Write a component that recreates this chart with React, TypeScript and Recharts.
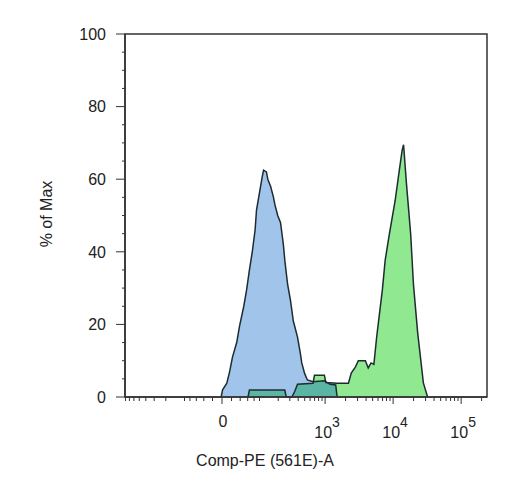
import React from "react";
import { ComposedChart, Area, XAxis, YAxis, ReferenceArea } from "recharts";

// histogram bins on the display (channel) scale, 0..256
const blueChannels = [68, 69, 72, 74, 76, 79, 81, 84, 86, 88, 90, 92, 93, 95, 97, 98, 100, 101, 103, 105, 106, 108, 110, 112, 113, 115, 117, 119, 122, 124, 125, 127, 129, 133, 141, 145, 149, 150];
const bluePct = [0, 2, 3.8, 7, 11, 15, 19.5, 25, 29.5, 35, 40, 46, 51.5, 56, 60.6, 62.5, 62, 60, 58, 55, 53, 50, 48, 42, 37.7, 31, 26.7, 21, 16.5, 12, 9.4, 6.5, 4.7, 4.2, 4.5, 3.5, 3.3, 0];

const greenChannels = [87, 88, 113, 114, 118, 120, 122, 133, 134, 141, 142, 150, 158, 160, 163, 165, 170, 172, 174, 176, 178, 182, 184, 187, 191, 194, 196, 197, 199, 202, 204, 207, 211, 214];
const greenPct = [0, 1.9, 1.9, 0, 0, 1.5, 3.5, 3.8, 6, 6, 4, 3.8, 3.8, 6.6, 8.3, 10, 10, 8, 9.4, 9, 16.6, 29.5, 37.7, 45, 54, 62.5, 68, 69.5, 59, 45, 31, 17.6, 3.9, 0];

const xMajorValues = [0, 1e3, 1e4, 1e5];
const xMajorExponents = [null, 3, 4, 5];
const xMinorValues = [
  -800, -700, -600, -500, -400, -300, -200, -100, -80, -60, -40, -20,
  20, 40, 60, 80, 100, 200, 300, 400, 500, 600, 700, 800, 900,
  2e3, 3e3, 4e3, 5e3, 6e3, 7e3, 8e3, 9e3,
  2e4, 3e4, 4e4, 5e4, 6e4, 7e4, 8e4, 9e4,
  2e5,
];

const yTickValues = [0, 5, 10, 15, 20, 25, 30, 35, 40, 45, 50, 55, 60, 65, 70, 75, 80, 85, 90, 95, 100];

const X_MAX = 256;
const ZERO_CH = 68.6;
const DECADE_CH = 48.1;
const BIEX_W = 61;
const toChannel = (v: number) => ZERO_CH + (DECADE_CH * Math.asinh(v / BIEX_W)) / Math.LN10;

const xTicks = [
  ...xMajorValues.map((v, i) => ({ pos: toChannel(v), major: true, exp: xMajorExponents[i] })),
  ...xMinorValues.map((v) => ({ pos: toChannel(v), major: false, exp: null })),
]
  .filter((t) => t.pos >= 0 && t.pos <= X_MAX)
  .sort((a, b) => a.pos - b.pos);

const rows: { x: number; blue?: number; green?: number }[] = [];
blueChannels.forEach((x, i) => rows.push({ x, blue: bluePct[i] }));
greenChannels.forEach((x, i) => rows.push({ x, green: greenPct[i] }));
rows.sort((a, b) => a.x - b.x);

const INK = "#333";
const LINE = "#1c2c30";
const FONT = "'Liberation Sans', Arial, sans-serif";

function XTick(props: any) {
  const { x, y, payload } = props;
  const t = xTicks.find((k) => Math.abs(k.pos - payload.value) < 1e-6);
  if (!t) return null;
  return (
    <g>
      <line x1={x} x2={x} y1={y} y2={y + (t.major ? 7 : 4)} stroke={INK} strokeWidth={1} />
      {t.major && t.exp == null && (
        <text x={x + 1} y={y + 30} textAnchor="middle" fontSize={16} fill="#222" fontFamily={FONT}>
          0
        </text>
      )}
      {t.major && t.exp != null && (
        <text x={x + 2} y={y + 41} textAnchor="middle" fontSize={16} fill="#222" fontFamily={FONT}>
          10
          <tspan dy={-11} fontSize={14}>
            {t.exp}
          </tspan>
        </text>
      )}
    </g>
  );
}

function YTick(props: any) {
  const { x, y, payload } = props;
  const major = payload.value % 20 === 0;
  return (
    <g>
      <line x1={x - (major ? 9 : 3)} x2={x} y1={y} y2={y} stroke={INK} strokeWidth={1} />
      {major && (
        <text x={x - 19} y={y} dy="0.36em" textAnchor="end" fontSize={16} fill="#222" fontFamily={FONT}>
          {payload.value}
        </text>
      )}
    </g>
  );
}

export default function App() {
  return (
    <div style={{ position: "absolute", left: 0, top: 0, background: "#fff" }}>
      <ComposedChart width={520} height={485} data={rows} margin={{ top: 34, right: 33, left: 25, bottom: 0 }}>
        <XAxis
          type="number"
          dataKey="x"
          domain={[0, X_MAX]}
          ticks={xTicks.map((t) => t.pos)}
          interval={0}
          tickSize={0}
          tickMargin={0}
          tickLine={false}
          height={88}
          allowDataOverflow
          axisLine={{ stroke: INK, strokeWidth: 1.5 }}
          tick={(p: any) => <XTick {...p} />}
          label={{
            content: () => (
              <text x={265} y={466} textAnchor="middle" fontSize={16} fill="#222" fontFamily={FONT}>
                Comp-PE (561E)-A
              </text>
            ),
          }}
        />
        <YAxis
          type="number"
          domain={[0, 100]}
          ticks={yTickValues}
          interval={0}
          width={100}
          tickSize={0}
          tickMargin={0}
          tickLine={false}
          axisLine={{ stroke: INK, strokeWidth: 1.5 }}
          tick={(p: any) => <YTick {...p} />}
          label={{
            content: () => (
              <text
                x={46}
                y={214}
                transform="rotate(-90 46 214)"
                textAnchor="middle"
                dominantBaseline="central"
                fontSize={16}
                fill="#222"
                fontFamily={FONT}
              >
                % of Max
              </text>
            ),
          }}
        />
        {/* green first, then a translucent blue so the overlap turns teal */}
        <Area
          type="linear"
          dataKey="green"
          connectNulls
          fill="#90E890"
          fillOpacity={1}
          stroke="none"
          isAnimationActive={false}
          dot={false}
          activeDot={false}
        />
        <Area
          type="linear"
          dataKey="blue"
          connectNulls
          fill="#0060C9"
          fillOpacity={0.37}
          stroke={LINE}
          strokeWidth={1.5}
          isAnimationActive={false}
          dot={false}
          activeDot={false}
        />
        <Area
          type="linear"
          dataKey="green"
          connectNulls
          fill="none"
          stroke={LINE}
          strokeWidth={1.5}
          isAnimationActive={false}
          dot={false}
          activeDot={false}
        />
        <ReferenceArea x1={0} x2={X_MAX} y1={0} y2={100} fill="none" stroke={INK} strokeWidth={1.5} />
      </ComposedChart>
    </div>
  );
}
